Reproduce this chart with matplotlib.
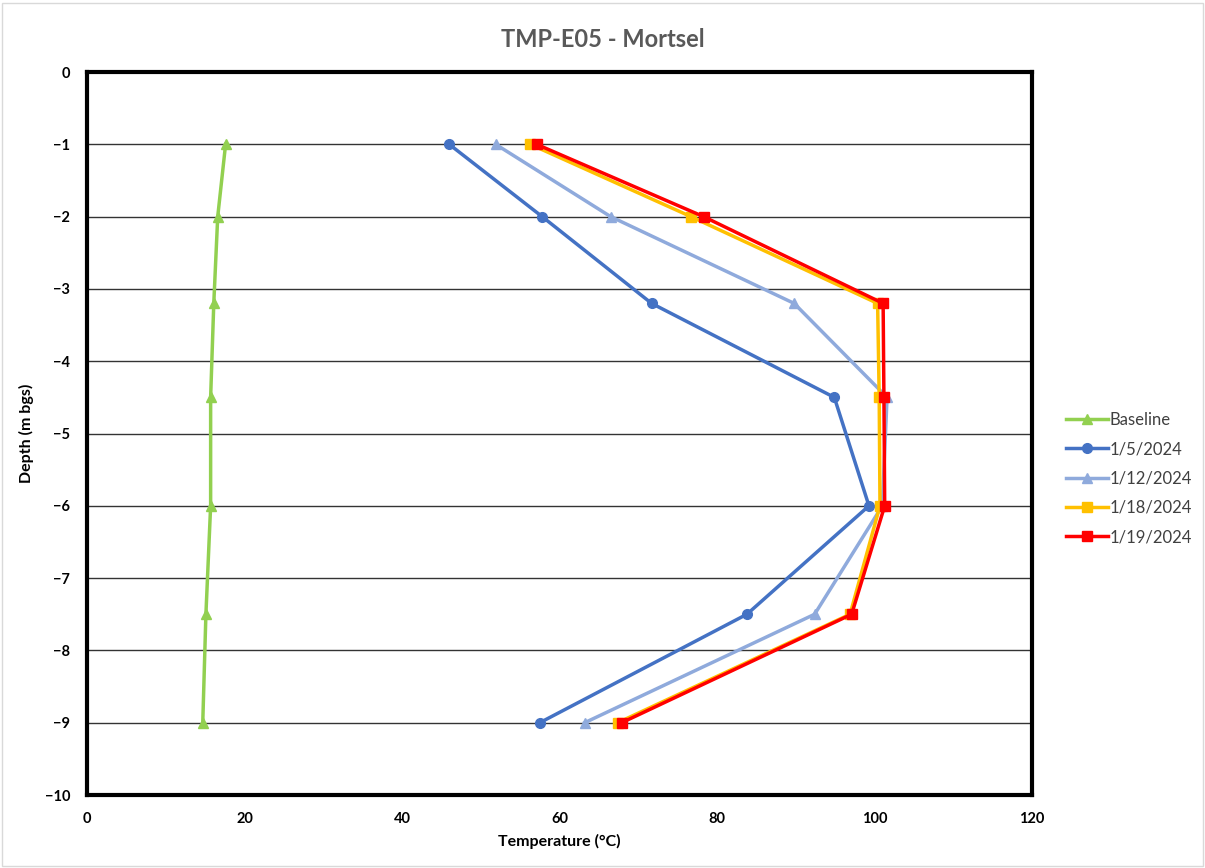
import matplotlib
matplotlib.use("Agg")
import matplotlib.pyplot as plt

plt.rcParams['font.family'] = ['Lato', 'DejaVu Sans']

# depth (m bgs) of each sensor
depth = [-1, -2, -3.2, -4.5, -6, -7.5, -9]

# temperatures
baseline = [17.6, 16.6, 16.1, 15.7, 15.7, 15.1, 14.7]
jan05 = [46.0, 57.8, 71.7, 94.9, 99.3, 83.8, 57.5]
jan12 = [51.9, 66.5, 89.8, 101.6, 101.0, 92.4, 63.2]
jan18 = [56.3, 76.7, 100.4, 100.6, 100.7, 96.9, 67.4]
jan19 = [57.1, 78.3, 101.1, 101.2, 101.3, 97.1, 67.9]

series = [
    ("Baseline", baseline, "#92D050", "^", 7),
    ("1/5/2024", jan05, "#4472C4", "o", 7),
    ("1/12/2024", jan12, "#8FAADC", "^", 7),
    ("1/18/2024", jan18, "#FFC000", "s", 7),
    ("1/19/2024", jan19, "#FF0000", "s", 7),
]

fig = plt.figure(figsize=(12.05, 8.68), dpi=100)
ax = fig.add_axes([0.0722, 0.0841, 0.7842, 0.8329])

for name, vals, col, mk, ms in series:
    ax.plot(vals, depth, color=col, marker=mk, markersize=ms, linewidth=2.5,
            label=name, zorder=3)

ax.set_xlim(0, 120)
ax.set_ylim(-10, 0)
ax.set_xticks(range(0, 121, 20))
ax.set_yticks(range(-10, 1))
ax.grid(axis='y', color='#333333', linewidth=1)
ax.set_axisbelow(True)
for s in ax.spines.values():
    s.set_linewidth(3)
    s.set_color('black')
ax.tick_params(length=0, pad=12, labelsize=10.5)
for lb in ax.get_xticklabels() + ax.get_yticklabels():
    lb.set_fontweight('bold')

ax.set_xlabel("Temperature (\u00b0C)", fontsize=11.5, fontweight='bold', labelpad=6)
ax.set_ylabel("Depth (m bgs)", fontsize=11.5, fontweight='bold', labelpad=8)
fig.text(0.5, 0.955, "TMP-E05 - Mortsel", ha='center', va='center',
         fontsize=17, fontweight='bold', color='#595959')

leg = ax.legend(loc='center left', bbox_to_anchor=(1.02, 0.438), frameon=False,
                fontsize=12, labelspacing=0.8, handlelength=2.5, handletextpad=0.1)
for t in leg.get_texts():
    t.set_color('#404040')

fig.patches.append(plt.Rectangle((0.002, 0.002), 0.996, 0.995, transform=fig.transFigure,
                                 fill=False, edgecolor='#d9d9d9', linewidth=1))

fig.savefig("out.png", dpi=100)
